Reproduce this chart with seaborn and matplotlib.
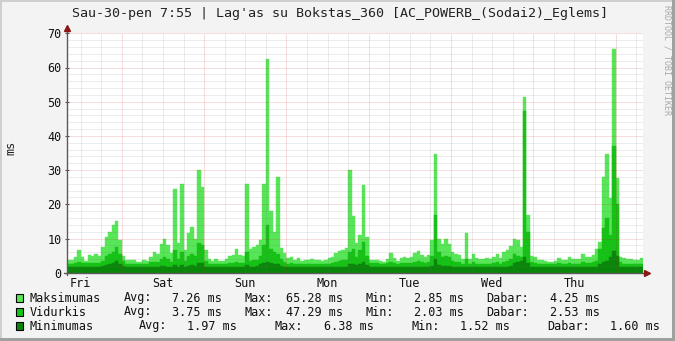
import numpy as np
import pandas as pd
import matplotlib
matplotlib.use("Agg")
import matplotlib.pyplot as plt
import seaborn as sns
from matplotlib.lines import Line2D
from matplotlib.patches import Rectangle

# ---------------- data (hourly samples, ms) ----------------
max_vals = [
    3.8, 3.8, 4.5, 6.5, 4.5, 3.5, 5.3, 5.0, 5.5, 5.0,
    7.5, 10.5, 12.0, 14.0, 15.0, 9.5, 5.0, 3.8, 3.7, 3.7,
    3.2, 3.0, 3.8, 3.5, 4.5, 6.0, 5.5, 8.5, 10.0, 8.0,
    5.7, 24.5, 8.7, 26.0, 6.5, 11.6, 13.5, 10.0, 30.0, 25.0,
    6.6, 3.9, 3.3, 3.9, 3.3, 3.5, 3.9, 4.8, 5.3, 6.8,
    5.3, 5.0, 26.0, 7.0, 7.5, 8.0, 9.6, 26.0, 62.5, 18.0,
    12.0, 28.0, 7.2, 5.7, 4.2, 4.7, 3.8, 4.2, 3.3, 3.8,
    3.8, 4.0, 3.6, 3.8, 3.3, 3.8, 4.2, 4.7, 5.7, 6.2,
    6.6, 7.1, 30.0, 16.6, 8.6, 11.0, 25.6, 10.5, 3.7, 3.7,
    3.7, 3.4, 3.2, 3.9, 5.7, 4.2, 3.4, 4.2, 4.7, 4.2,
    4.7, 5.7, 6.2, 5.2, 4.7, 5.2, 9.6, 34.7, 10.0, 8.5,
    9.8, 8.5, 6.0, 5.5, 5.3, 4.0, 11.5, 4.0, 5.5, 4.2,
    4.0, 4.0, 4.3, 4.0, 4.5, 5.5, 4.2, 6.0, 6.5, 7.9,
    10.0, 9.5, 7.5, 51.5, 17.0, 5.0, 4.6, 3.8, 3.6, 3.5,
    3.2, 3.2, 3.3, 4.2, 3.6, 3.8, 4.6, 3.9, 3.9, 4.0,
    5.5, 4.7, 4.7, 5.2, 6.8, 9.0, 27.9, 34.7, 21.7, 65.3,
    27.6, 4.5, 4.2, 3.9, 3.9, 3.6, 3.6, 4.2,
]
avg_vals = [
    2.6, 2.6, 2.7, 3.0, 2.8, 2.8, 2.8, 2.8, 2.8, 2.8,
    3.5, 5.0, 5.5, 6.0, 7.5, 5.5, 3.5, 2.6, 2.6, 2.6,
    2.5, 2.4, 2.6, 2.6, 3.0, 3.0, 3.0, 4.0, 4.5, 4.0,
    3.2, 6.5, 4.0, 6.0, 3.5, 5.0, 5.5, 5.0, 8.7, 8.0,
    3.5, 2.6, 2.5, 2.6, 2.5, 2.5, 2.6, 2.7, 2.8, 3.0,
    2.8, 2.8, 6.0, 3.5, 3.6, 3.8, 5.0, 8.0, 14.0, 7.0,
    6.0, 5.5, 4.0, 3.2, 2.6, 2.7, 2.5, 2.6, 2.5, 2.5,
    2.5, 2.6, 2.5, 2.5, 2.5, 2.5, 2.6, 2.8, 3.2, 3.5,
    3.6, 3.8, 6.0, 7.0, 4.5, 6.5, 9.0, 5.0, 2.8, 2.7,
    2.7, 2.6, 2.6, 2.7, 3.0, 2.8, 2.6, 2.8, 2.9, 2.8,
    2.9, 3.1, 3.3, 3.0, 2.9, 3.0, 5.0, 17.0, 6.0, 4.5,
    4.8, 4.5, 3.5, 3.0, 3.0, 2.6, 4.0, 2.6, 3.0, 2.6,
    2.6, 2.6, 2.6, 2.6, 2.7, 3.0, 2.6, 3.2, 3.5, 4.0,
    5.5, 5.0, 4.5, 47.3, 12.0, 3.0, 2.7, 2.6, 2.5, 2.5,
    2.5, 2.5, 2.5, 2.7, 2.6, 2.6, 2.8, 2.6, 2.6, 2.6,
    3.0, 2.8, 2.8, 3.0, 3.5, 7.0, 13.0, 16.0, 11.0, 37.0,
    20.0, 3.0, 2.6, 2.6, 2.6, 2.5, 2.5, 2.5,
]
min_vals = [
    1.8, 1.8, 1.8, 1.8, 1.8, 1.8, 1.8, 1.8, 1.8, 1.8,
    1.9, 2.2, 2.5, 2.8, 3.5, 2.5, 1.9, 1.7, 1.7, 1.7,
    1.7, 1.7, 1.7, 1.7, 1.7, 1.7, 1.7, 1.9, 1.9, 1.8,
    1.8, 2.3, 1.8, 2.3, 1.8, 2.0, 2.2, 2.1, 2.9, 2.7,
    1.8, 1.7, 1.7, 1.7, 1.7, 1.7, 1.7, 1.7, 1.7, 1.7,
    1.7, 1.7, 2.2, 1.8, 1.8, 1.9, 2.5, 2.8, 3.2, 2.8,
    2.5, 2.5, 2.0, 1.8, 1.7, 1.7, 1.7, 1.7, 1.7, 1.7,
    1.7, 1.7, 1.7, 1.7, 1.7, 1.7, 1.7, 1.7, 1.7, 1.7,
    1.7, 1.8, 2.5, 2.5, 2.2, 2.5, 3.0, 2.2, 1.8, 1.8,
    1.8, 1.8, 1.8, 1.8, 1.8, 1.8, 1.8, 1.8, 1.8, 1.8,
    1.8, 1.8, 1.8, 1.8, 1.8, 1.8, 2.0, 4.0, 2.2, 2.0,
    2.0, 2.0, 1.8, 1.7, 1.7, 1.7, 1.8, 1.7, 1.7, 1.7,
    1.7, 1.7, 1.7, 1.7, 1.7, 1.7, 1.7, 1.7, 1.8, 2.0,
    2.8, 3.0, 3.5, 4.5, 2.8, 1.8, 1.7, 1.7, 1.7, 1.7,
    1.7, 1.7, 1.7, 1.7, 1.7, 1.7, 1.7, 1.7, 1.7, 1.7,
    1.7, 1.7, 1.7, 1.7, 1.8, 2.5, 3.0, 3.5, 4.5, 6.38,
    5.0, 1.8, 1.7, 1.7, 1.7, 1.7, 1.6, 1.6,
]

day_labels = ["Fri", "Sat", "Sun", "Mon", "Tue", "Wed", "Thu"]
day_label_hours = [4, 28, 52, 76, 100, 124, 148]
midnight_hours = [16, 40, 64, 88, 112, 136, 160]

series_names = ["Maksimumas", "Vidurkis", "Minimumas"]
stat_avg = ["7.26 ms", "3.75 ms", "1.97 ms"]
stat_max = ["65.28 ms", "47.29 ms", "6.38 ms"]
stat_min = ["2.85 ms", "2.03 ms", "1.52 ms"]
stat_cur = ["4.25 ms", "2.53 ms", "1.60 ms"]

title = "Sau-30-pen 7:55 | Lag'as su Bokstas_360 [AC_POWERB_(Sodai2)_Eglems]"

# ---------------- style ----------------
C_MAX = "#57E657"
C_AVG = "#16C216"
C_MIN = "#0A870A"
colors = [C_MAX, C_AVG, C_MIN]

sns.set_style("white")
plt.rcParams["font.family"] = ["DejaVu Sans Mono"]

W, H = 675, 341
fig = plt.figure(figsize=(W / 100, H / 100), dpi=100)
fig.patch.set_facecolor("#F3F3F3")

def fx(x):
    return x / W

def fy(y):
    return 1 - y / H

X0, X1, Y0, Y1 = 67, 643, 33.3, 272.7
ax = fig.add_axes([fx(X0), fy(Y1), (X1 - X0) / W, (Y1 - Y0) / H])
ax.set_facecolor("white")

n = len(max_vals)
df = pd.DataFrame({
    "hour": np.arange(n) + 0.5,
    "max": max_vals,
    "avg": avg_vals,
    "min": min_vals,
})

for col, c in zip(["max", "avg", "min"], colors):
    sns.barplot(data=df, x="hour", y=col, native_scale=True, orient="x",
                width=1.0, color=c, saturation=1, errorbar=None,
                linewidth=0.3, edgecolor=c, ax=ax)

ax.set_xlim(0, n)
ax.set_ylim(0, 70)
ax.set_xlabel("")
ax.set_ylabel("")
for s in ax.spines.values():
    s.set_visible(False)

# grid (drawn over data like rrdtool)
minor_col = (0.45, 0.45, 0.45, 0.26)
major_col = (0.80, 0.10, 0.10, 0.28)
dots = (0, (1, 1))
for yv in range(2, 71, 2):
    if yv % 10 == 0:
        ax.axhline(yv, color=major_col, lw=0.72, ls=dots, zorder=5)
    else:
        ax.axhline(yv, color=minor_col, lw=0.72, ls=dots, zorder=5)
for xv in range(4, n, 6):
    if xv in midnight_hours:
        ax.axvline(xv, color=major_col, lw=0.72, ls=dots, zorder=5)
    else:
        ax.axvline(xv, color=minor_col, lw=0.72, ls=dots, zorder=5)

ax.set_yticks(range(0, 71, 10))
ax.set_yticks(range(0, 71, 2), minor=True)
ax.set_xticks(day_label_hours)
ax.set_xticklabels(day_labels)
ax.tick_params(axis="y", which="major", direction="inout", length=3.5,
               width=0.8, color="#555555", pad=2.2, labelsize=8.5,
               labelcolor="#111111")
ax.tick_params(axis="y", which="minor", direction="inout", length=1.6,
               width=0.6, color="#777777")
ax.tick_params(axis="x", which="major", length=0, pad=3, labelsize=8.5,
               labelcolor="#111111")
ax.tick_params(left=True, bottom=True)

# axis lines and arrows
axis_col = "#5A5A5A"
fig.add_artist(Line2D([fx(X0), fx(X0)], [fy(275), fy(30)], color=axis_col,
                      lw=1.0, transform=fig.transFigure))
fig.add_artist(Line2D([fx(64), fx(646)], [fy(Y1), fy(Y1)], color=axis_col,
                      lw=1.0, transform=fig.transFigure))
arrow_col = "#8E1515"
fig.add_artist(Line2D([fx(X0)], [fy(28.3)], marker="^", ms=4.5, color=arrow_col,
                      mec=arrow_col, transform=fig.transFigure))
fig.add_artist(Line2D([fx(647)], [fy(Y1)], marker=">", ms=4.5, color=arrow_col,
                      mec=arrow_col, transform=fig.transFigure))

# title and labels
fig.text(fx(340.5), fy(13), title, ha="center", va="center", fontsize=9.6,
         color="#222222")
fig.text(fx(11), fy(148), "ms", rotation=90, ha="center", va="center",
         fontsize=8.5, color="#222222")
fig.text(fx(667.5), fy(60), "RRDTOOL / TOBI OETIKER", rotation=270,
         ha="center", va="center", fontsize=6.0, color="#A8A8A8")

# legend
rows_y = [298, 312, 326]
cols12 = [30, 124, 172, 244.5, 286.5, 365, 414.5, 486.5, 549.5]
cols3 = [30, 139, 187.3, 274.6, 324.2, 411, 459.8, 547.6, 610.4]
for i in range(3):
    y = rows_y[i]
    fig.patches.append(Rectangle((fx(15.5), fy(y + 3.6)), 7 / W, 7.2 / H,
                                 transform=fig.transFigure, facecolor=colors[i],
                                 edgecolor="black", lw=0.8))
    xs = cols12 if i < 2 else cols3
    parts = [series_names[i], "Avg:", stat_avg[i], "Max:", stat_max[i],
             "Min:", stat_min[i], "Dabar:", stat_cur[i]]
    for xp, t in zip(xs, parts):
        fig.text(fx(xp), fy(y), t, ha="left", va="center", fontsize=8.5,
                 color="#111111")

# outer shade border
fig.patches.append(Rectangle((0, 0), fx(2), 1, transform=fig.transFigure,
                             facecolor="#CFCFCF", lw=0))
fig.patches.append(Rectangle((0, fy(2)), 1, 2 / H, transform=fig.transFigure,
                             facecolor="#CFCFCF", lw=0))
fig.patches.append(Rectangle((fx(672), 0), 3 / W, 1, transform=fig.transFigure,
                             facecolor="#A0A0A0", lw=0))
fig.patches.append(Rectangle((0, 0), 1, 3 / H, transform=fig.transFigure,
                             facecolor="#A0A0A0", lw=0))

fig.savefig("out.png", dpi=100, facecolor=fig.get_facecolor())
